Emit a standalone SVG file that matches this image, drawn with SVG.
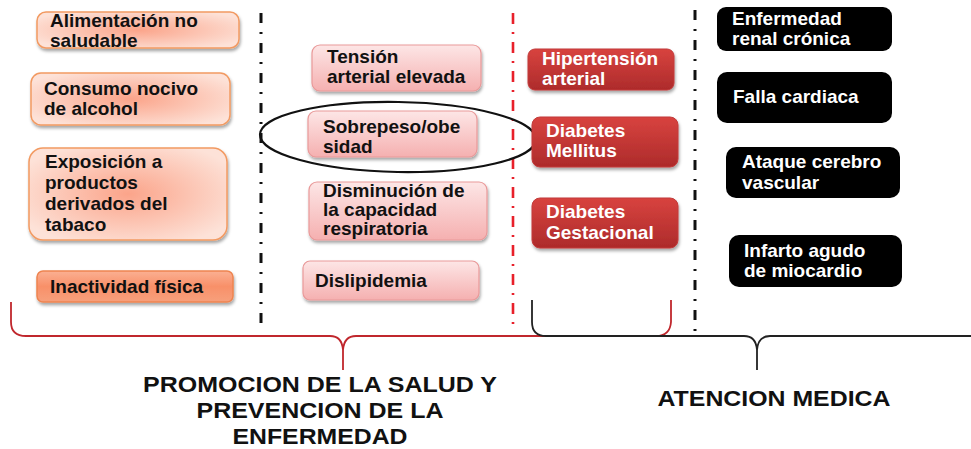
<svg xmlns="http://www.w3.org/2000/svg" width="971" height="449" viewBox="0 0 971 449">
<defs>
<radialGradient id="gOr" cx="0.5" cy="0.5" r="0.6">
<stop offset="0" stop-color="#fba48a"/>
<stop offset="1" stop-color="#fde2d8"/>
</radialGradient>
<linearGradient id="gOr2" x1="0" y1="0" x2="0" y2="1">
<stop offset="0" stop-color="#fbb092"/>
<stop offset="0.5" stop-color="#f89069"/>
<stop offset="1" stop-color="#f7a07c"/>
</linearGradient>
<linearGradient id="gPk" x1="0" y1="0" x2="0" y2="1">
<stop offset="0" stop-color="#fde6e6"/>
<stop offset="1" stop-color="#f5b0b0"/>
</linearGradient>
<linearGradient id="gRd" x1="0" y1="0" x2="0" y2="1">
<stop offset="0" stop-color="#d8433f"/>
<stop offset="1" stop-color="#ad2b2b"/>
</linearGradient>
<filter id="sh" x="-10%" y="-20%" width="120%" height="150%">
<feDropShadow dx="1" dy="2.5" stdDeviation="1.5" flood-color="#000" flood-opacity="0.35"/>
</filter>
</defs>
<style>
text{font-family:"Liberation Sans",Arial,sans-serif;font-weight:bold;font-size:19px;fill:#111}
.w{fill:#fff}
.or{fill:url(#gOr);stroke:#f29a62;stroke-width:1.5;filter:url(#sh)}
.or2{fill:url(#gOr2);stroke:#ee8450;stroke-width:1.5;filter:url(#sh)}
.pk{fill:url(#gPk);stroke:#e99999;stroke-width:1.2;filter:url(#sh)}
.rd{fill:url(#gRd);stroke:#c23a3a;stroke-width:1;filter:url(#sh)}
.bk{fill:#000}
.div{fill:none;stroke:#111;stroke-width:3;stroke-dasharray:10 9 2 9}
.divr{fill:none;stroke:#e8202a;stroke-width:2.6;stroke-dasharray:11 8 2 8}
.br{fill:none;stroke:#c0272d;stroke-width:1.8}
.bb{fill:none;stroke:#222;stroke-width:1.8}
.big{font-size:22px}
</style>

<g id="connectors">
<line class="div" x1="261" y1="13" x2="261" y2="326"/>
<line class="divr" x1="513" y1="13" x2="513" y2="326"/>
<line class="div" x1="695" y1="10" x2="695" y2="334"/>
<path class="br" d="M 11 302 V 322 Q 11 336 26 336 H 330 Q 342 336 343 350 V 370 M 343 350 Q 344 336 356 336 H 656 Q 670 336 671 322 V 300"/>
<path class="bb" d="M 532 300 V 322 Q 532 336 546 336 H 744 Q 756 336 757 350 V 370 M 757 350 Q 758 336 770 336 H 971"/>
<ellipse cx="398" cy="137" rx="138" ry="35" transform="rotate(1 398 137)" fill="none" stroke="#111" stroke-width="2.2"/>
</g>

<g id="n-alimentacion"><rect class="or" x="37" y="12" width="202" height="36" rx="9"/><text x="50" y="27">Alimentación no</text><text x="50" y="47">saludable</text></g>
<g id="n-alcohol"><rect class="or" x="31" y="73" width="199" height="52" rx="10"/><text x="44" y="95">Consumo nocivo</text><text x="44" y="115">de alcohol</text></g>
<g id="n-tabaco"><rect class="or" x="29" y="148" width="198" height="92" rx="14"/><text x="45" y="168">Exposición a</text><text x="45" y="189">productos</text><text x="45" y="210">derivados del</text><text x="45" y="231">tabaco</text></g>
<g id="n-inactividad"><rect class="or2" x="37" y="271" width="196" height="31" rx="6"/><text x="50" y="293">Inactividad física</text></g>

<g id="n-tension"><rect class="pk" x="312" y="45" width="169" height="46" rx="8"/><text x="327" y="63">Tensión</text><text x="327" y="83">arterial elevada</text></g>
<g id="n-sobrepeso"><rect class="pk" x="308" y="111" width="169" height="46" rx="8"/><text x="323" y="133">Sobrepeso/obe</text><text x="323" y="153">sidad</text></g>
<g id="n-disminucion"><rect class="pk" x="309" y="182" width="178" height="58" rx="8"/><text x="323" y="197">Disminución de</text><text x="323" y="216">la capacidad</text><text x="323" y="235">respiratoria</text></g>
<g id="n-dislipidemia"><rect class="pk" x="303" y="261" width="176" height="39" rx="7"/><text x="315" y="287">Dislipidemia</text></g>

<g id="n-hipertension"><rect class="rd" x="528" y="49" width="146" height="41" rx="7"/><text class="w" x="542" y="65">Hipertensión</text><text class="w" x="542" y="85">arterial</text></g>
<g id="n-mellitus"><rect class="rd" x="532" y="117" width="146" height="50" rx="8"/><text class="w" x="546" y="137">Diabetes</text><text class="w" x="546" y="157">Mellitus</text></g>
<g id="n-gestacional"><rect class="rd" x="532" y="198" width="146" height="50" rx="8"/><text class="w" x="546" y="218">Diabetes</text><text class="w" x="546" y="239">Gestacional</text></g>

<g id="n-renal"><rect class="bk" x="717" y="7" width="175" height="44" rx="9"/><text class="w" x="732" y="25">Enfermedad</text><text class="w" x="732" y="45">renal crónica</text></g>
<g id="n-falla"><rect class="bk" x="717" y="72" width="175" height="51" rx="10"/><text class="w" x="733" y="103">Falla cardiaca</text></g>
<g id="n-ataque"><rect class="bk" x="726" y="147" width="174" height="51" rx="10"/><text class="w" x="742" y="168">Ataque cerebro</text><text class="w" x="742" y="189">vascular</text></g>
<g id="n-infarto"><rect class="bk" x="729" y="235" width="173" height="52" rx="10"/><text class="w" x="744" y="257">Infarto agudo</text><text class="w" x="744" y="277">de miocardio</text></g>

<g id="labels">
<text class="big" x="320" y="392" text-anchor="middle" textLength="354" lengthAdjust="spacingAndGlyphs">PROMOCION DE LA SALUD Y</text>
<text class="big" x="320" y="418" text-anchor="middle" textLength="247" lengthAdjust="spacingAndGlyphs">PREVENCION DE LA</text>
<text class="big" x="320" y="444" text-anchor="middle" textLength="175" lengthAdjust="spacingAndGlyphs">ENFERMEDAD</text>
<text class="big" x="774" y="406" text-anchor="middle" textLength="233" lengthAdjust="spacingAndGlyphs">ATENCION MEDICA</text>
</g>
</svg>
